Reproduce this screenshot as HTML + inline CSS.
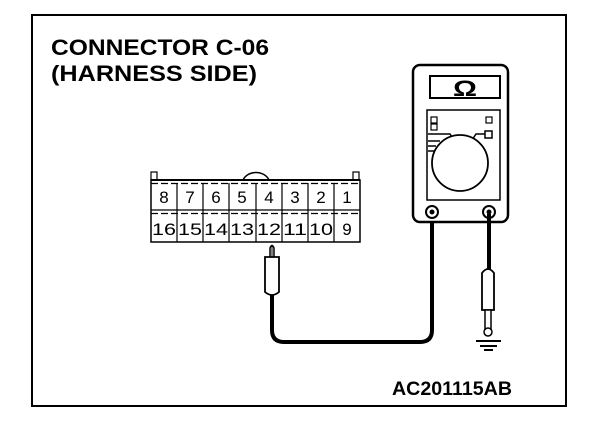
<!DOCTYPE html>
<html><head><style>
html,body{margin:0;padding:0;background:#fff;width:608px;height:432px;overflow:hidden}
text{font-family:"Liberation Sans",Arial,sans-serif;font-weight:bold;fill:#000}
.n text{font-weight:normal}
</style></head><body>
<svg width="608" height="432" viewBox="0 0 608 432" xmlns="http://www.w3.org/2000/svg">
<rect x="32" y="15" width="534" height="391" fill="none" stroke="#000" stroke-width="2"/>
<text x="51" y="55" font-size="22" textLength="218" lengthAdjust="spacingAndGlyphs">CONNECTOR C-06</text>
<text x="51" y="81" font-size="22" textLength="206" lengthAdjust="spacingAndGlyphs">(HARNESS SIDE)</text>
<text x="392" y="395" font-size="19" textLength="120" lengthAdjust="spacingAndGlyphs">AC201115AB</text>

<!-- connector -->
<g stroke="#000" fill="none">
<path d="M243 180 A14 12 0 0 1 269 180" stroke-width="1.5"/>
<rect x="151" y="172" width="6" height="8" stroke-width="1.2" fill="#fff"/>
<rect x="353" y="172" width="6" height="8" stroke-width="1.2" fill="#fff"/>
<line x1="151" y1="180" x2="360" y2="180" stroke-width="2"/>
<line x1="151" y1="183.5" x2="360" y2="183.5" stroke-width="1.2" stroke-dasharray="7 3"/>
<rect x="151" y="180" width="209" height="62" stroke-width="1.5"/>
<line x1="151" y1="210" x2="360" y2="210" stroke-width="1.2"/>
<line x1="151" y1="213.5" x2="360" y2="213.5" stroke-width="1.2" stroke-dasharray="7 3"/>
<g stroke-width="1.2">
<line x1="177" y1="183" x2="177" y2="242"/><line x1="203" y1="183" x2="203" y2="242"/>
<line x1="229" y1="183" x2="229" y2="242"/><line x1="256" y1="183" x2="256" y2="242"/>
<line x1="282" y1="183" x2="282" y2="242"/><line x1="308" y1="183" x2="308" y2="242"/>
<line x1="334" y1="183" x2="334" y2="242"/>
</g>
</g>
<g class="n" font-size="17" text-anchor="middle">
<text x="164" y="203">8</text><text x="190" y="203">7</text>
<text x="216" y="203">6</text><text x="242" y="203">5</text>
<text x="269" y="203">4</text><text x="295" y="203">3</text>
<text x="321" y="203">2</text><text x="347" y="203">1</text>
<text x="164" y="235" textLength="24" lengthAdjust="spacingAndGlyphs">16</text>
<text x="190" y="235" textLength="24" lengthAdjust="spacingAndGlyphs">15</text>
<text x="216" y="235" textLength="24" lengthAdjust="spacingAndGlyphs">14</text>
<text x="242" y="235" textLength="24" lengthAdjust="spacingAndGlyphs">13</text>
<text x="269" y="235" textLength="24" lengthAdjust="spacingAndGlyphs">12</text>
<text x="295" y="235" textLength="24" lengthAdjust="spacingAndGlyphs">11</text>
<text x="321" y="235" textLength="24" lengthAdjust="spacingAndGlyphs">10</text>
<text x="347" y="235">9</text>
</g>

<!-- left probe and wire -->
<g stroke="#000" fill="#fff">
<path d="M270 258 L270 248 Q272 243 274 248 L274 258" stroke-width="1.5"/>
<line x1="272" y1="246" x2="272" y2="258" stroke-width="1"/>
<path d="M265 257 L279 257 L279 292 Q272 298 265 292 Z" stroke-width="1.8"/>
<path d="M272 295 L272 330 Q272 342 284 342 L420 342 Q432 342 432 330 L432 212" fill="none" stroke-width="4"/>
</g>

<!-- meter -->
<g stroke="#000" fill="#fff">
<rect x="413" y="65" width="95" height="157" rx="7" stroke-width="2.5"/>
<rect x="430" y="76" width="70" height="22" stroke-width="2"/>
<rect x="427" y="110" width="73" height="90" stroke-width="1.5"/>
<rect x="431" y="117" width="6" height="6" stroke-width="1.2"/>
<rect x="431" y="124" width="6" height="6" stroke-width="1.2"/>
<rect x="486" y="117" width="6" height="6" stroke-width="1.2"/>
<rect x="485" y="131" width="7" height="7" stroke-width="1.5"/>
<path d="M428 134 L450 134 L454 140 M472 140 L476 134 L485 134" fill="none" stroke-width="1.5"/>
<path d="M428 141 L440 141 M428 146 L436 146 M428 151 L434 151" fill="none" stroke-width="1.5"/>
<circle cx="460" cy="163" r="28" stroke-width="1.8"/>
<circle cx="432" cy="212" r="6" stroke-width="2"/>
<circle cx="432" cy="212" r="2.5" fill="#000" stroke="none"/>
<circle cx="489" cy="212" r="6" stroke-width="2"/>
<circle cx="489" cy="212" r="2.5" fill="#000" stroke="none"/>
<line x1="489" y1="214" x2="489" y2="273" stroke-width="4"/>
<path d="M482 273 Q488 265 494 273 L494 310 L482 310 Z" stroke-width="1.8"/>
<rect x="485" y="310" width="6" height="19" stroke-width="1.5"/>
<circle cx="488" cy="332" r="4" stroke-width="1.5"/>
</g>
<g stroke="#000" stroke-width="2">
<line x1="476" y1="341" x2="501" y2="341"/>
<line x1="480" y1="346" x2="497" y2="346"/>
<line x1="484" y1="350" x2="493" y2="350"/>
</g>
<text x="465" y="96" font-size="22" text-anchor="middle" textLength="24" lengthAdjust="spacingAndGlyphs">Ω</text>
</svg>
</body></html>
